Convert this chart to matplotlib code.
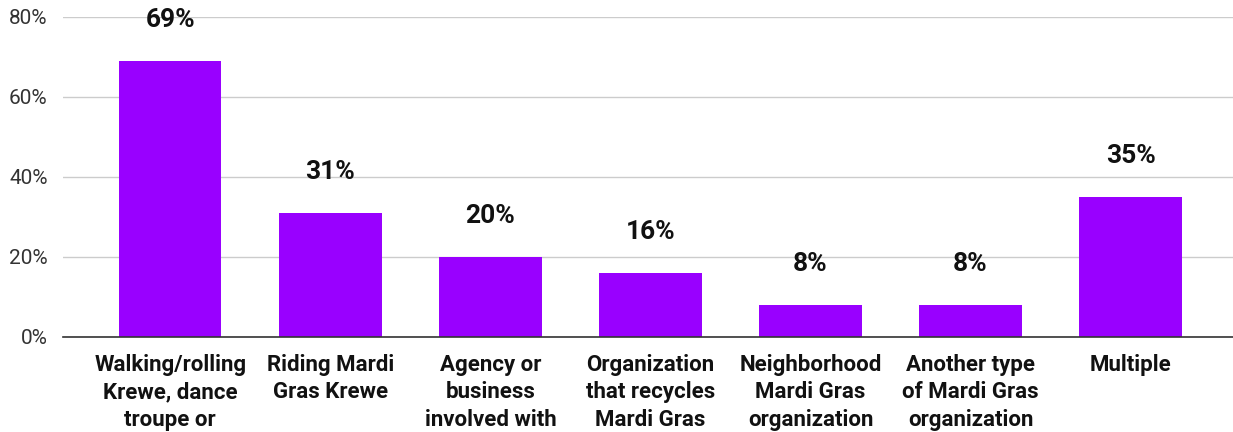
import numpy as np
import matplotlib.pyplot as plt

plt.rcParams['font.family'] = ['Roboto', 'DejaVu Sans']

categorias = ['Walking/rolling\nKrewe, dance\ntroupe or',
              'Riding Mardi\nGras Krewe',
              'Agency or\nbusiness\ninvolved with',
              'Organization\nthat recycles\nMardi Gras',
              'Neighborhood\nMardi Gras\norganization',
              'Another type\nof Mardi Gras\norganization',
              'Multiple']
porcentajes = [69, 31, 20, 16, 8, 8, 35]
ticks_y = [0, 20, 40, 60, 80]

color = '#9900ff'

fig = plt.figure(figsize=(12.33, 4.32), dpi=100)
ax = fig.add_axes([63/1233, 95/432, 1 - 63/1233, 320/432])

x = np.arange(len(categorias))
ax.bar(x, porcentajes, width=0.64, color=color, zorder=3)

# etiquetas de valor encima de cada barra
for xi, v in zip(x, porcentajes):
    ax.text(xi, v + 10.2, '%d%%' % v, ha='center', va='center',
            fontsize=19, fontweight='bold', color='#111111', zorder=4)

ax.set_ylim(0, 80)
ax.set_xlim(-0.67, 6.64)
ax.set_yticks(ticks_y)
ax.set_yticklabels(['%d%%' % t for t in ticks_y], fontsize=15, color='#333333')
ax.set_xticks(x)
ax.set_xticklabels(categorias, fontsize=16, fontweight='bold', color='#111111',
                   linespacing=1.32, va='top')
ax.tick_params(axis='both', length=0)
ax.tick_params(axis='y', pad=11)
ax.tick_params(axis='x', pad=12)

ax.grid(axis='y', color='#cccccc', linewidth=1, zorder=0)
for lado in ['top', 'right', 'left']:
    ax.spines[lado].set_visible(False)
ax.spines['bottom'].set_color('#333333')
ax.spines['bottom'].set_linewidth(1.2)
ax.spines['bottom'].set_zorder(5)

fig.savefig('out.png', dpi=100)
